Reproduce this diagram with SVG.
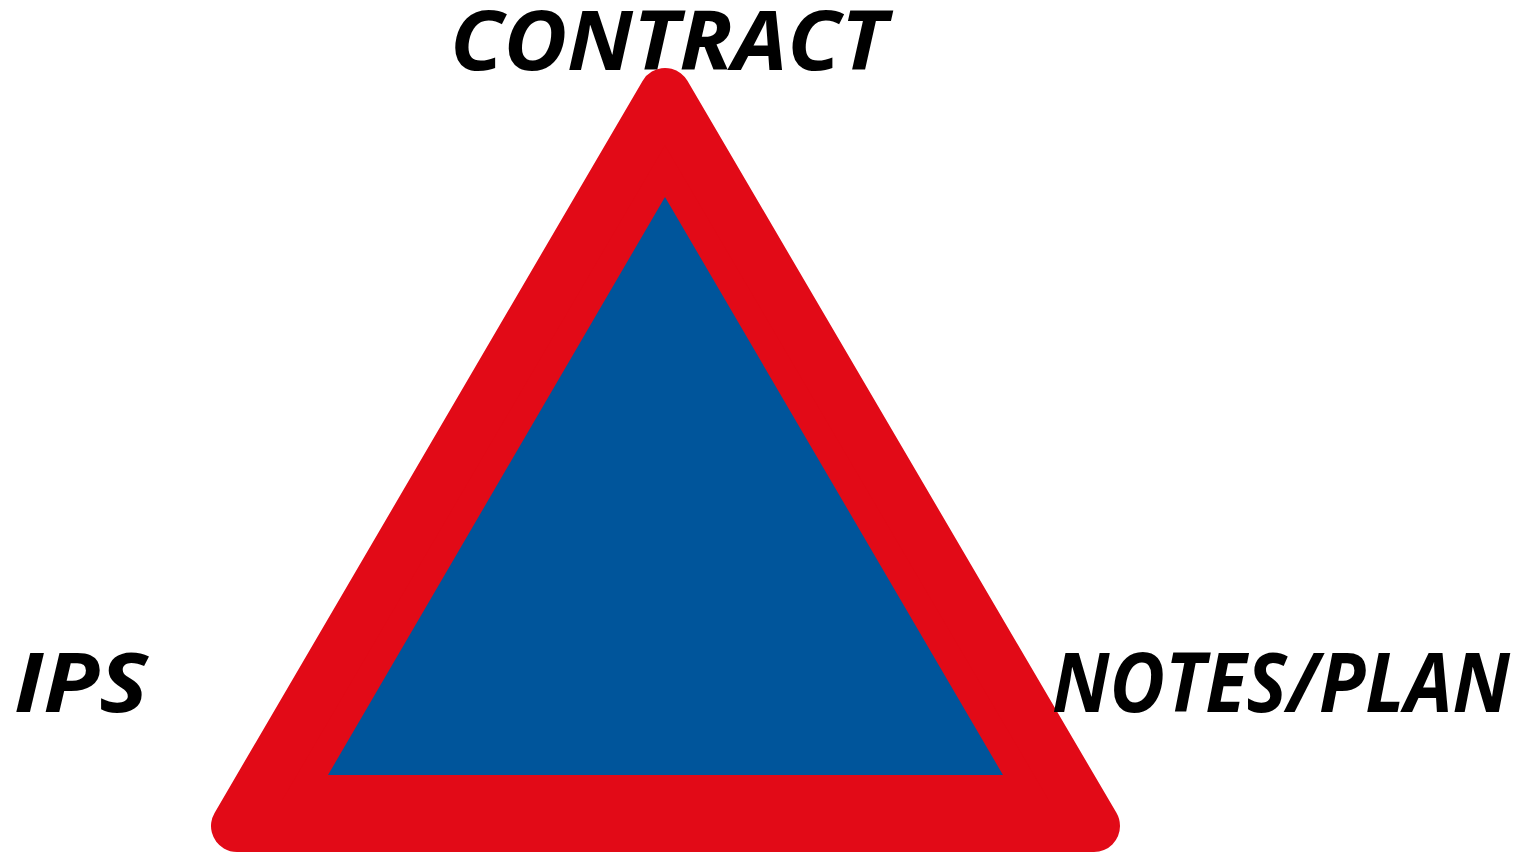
<svg xmlns="http://www.w3.org/2000/svg" width="1531" height="853" viewBox="0 0 1531 853">
<style>
.lbl{font-family:"Open Sans","Liberation Sans",sans-serif;font-weight:700;font-style:italic;font-size:82px;fill:#000}
</style>
<rect width="1531" height="853" fill="#fff"/>
<g id="triangle">
<polygon points="665,94 237,826 1094,826" fill="#E20A17" stroke="#E20A17" stroke-width="52" stroke-linejoin="round"/>
<polygon points="665,197 328,775 1003,775" fill="#00559B"/>
</g>
<g id="contract"><text class="lbl" x="450" y="70" textLength="437" lengthAdjust="spacingAndGlyphs">CONTRACT</text></g>
<g id="ips"><text class="lbl" x="14" y="712" textLength="134" lengthAdjust="spacingAndGlyphs">IPS</text></g>
<g id="notes"><text class="lbl" x="1052" y="712" textLength="458" lengthAdjust="spacingAndGlyphs">NOTES/PLAN</text></g>
</svg>
